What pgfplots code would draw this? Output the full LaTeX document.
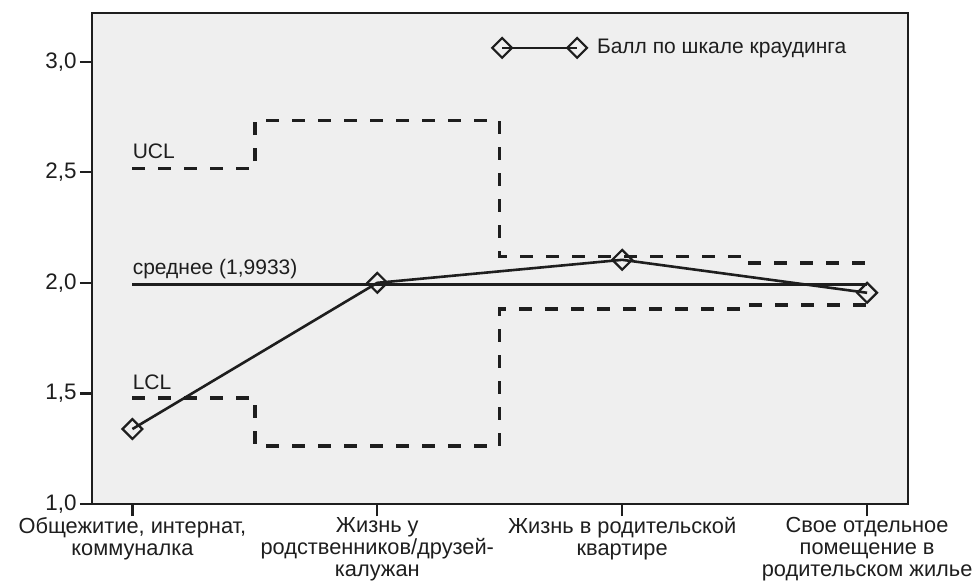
\documentclass[border=0pt]{standalone}
\usepackage{pgfplots}
\pgfplotsset{compat=1.18}
\usepackage{fontspec}
\setmainfont{Liberation Sans}
\definecolor{bg}{RGB}{239,239,239}
\definecolor{ln}{RGB}{30,30,30}
\begin{document}
\fontsize{10.5bp}{12bp}\selectfont
\begin{tikzpicture}
\begin{axis}[
  scale only axis,
  width=408bp, height=245.5bp,
  xmin=-0.165, xmax=3.167,
  ymin=1.0, ymax=3.22,
  axis background/.style={fill=bg},
  axis line style={line width=1.1bp, color=ln},
  xtick={0,1,2,3},
  xticklabels={{Общежитие, интернат,\\коммуналка},{Жизнь у\\родственников/друзей-\\калужан},{Жизнь в родительской\\квартире},{Свое отдельное\\помещение в\\родительском жилье}},
  xticklabel style={align=center, font=\fontsize{10.9bp}{11bp}\selectfont, text=ln, inner sep=0.5bp},
  ytick={1.0,1.5,2.0,2.5,3.0},
  yticklabel style={font=\fontsize{11.2bp}{12bp}\selectfont, text=ln, inner sep=1.5bp},
  /pgf/number format/.cd, fixed, fixed zerofill, precision=1, use comma, assume math mode=true,
  /pgfplots/.cd,
  tick align=outside,
  xtick pos=lower, ytick pos=left,
  major tick length=6bp,
  tick style={line width=1.1bp, color=ln},
  legend style={draw=none, fill=none, at={(rel axis cs:0.49,0.929)}, anchor=west, inner sep=0pt,
    font=\fontsize{10.5bp}{12bp}\selectfont, text=ln, column sep=3bp,
    nodes={inner sep=2bp}},
  legend image code/.code={\draw[#1,mark repeat=2,mark phase=1] plot coordinates {(0bp,0bp) (18.75bp,0bp) (37.5bp,0bp)};},
  clip=false,
]
% UCL
\addplot[const plot mark mid, ln, line width=1.7bp, dash pattern=on 6.5bp off 6.5bp, forget plot]
  coordinates {(0,2.516) (1,2.733) (2,2.118) (3,2.090)};
% LCL
\addplot[const plot mark mid, ln, line width=1.7bp, dash pattern=on 6.5bp off 6.5bp, forget plot]
  coordinates {(0,1.480) (1,1.262) (2,1.882) (3,1.900)};
% mean
\addplot[ln, line width=1.5bp, forget plot] coordinates {(0,1.9933) (3,1.9933)};
% data
\addplot[ln, line width=1.3bp, mark=square, mark size=3.5bp,
  mark options={rotate=45, fill=bg, line width=1.1bp, solid}]
  coordinates {(0,1.339) (1,2.000) (2,2.104) (3,1.955)};
\addlegendentry{Балл по шкале краудинга}
\node[anchor=base west, inner sep=0pt, text=ln] at (axis cs:0,2.516) [yshift=5bp] {UCL};
\node[anchor=base west, inner sep=0pt, text=ln] at (axis cs:0,1.9933) [yshift=5bp] {среднее (1,9933)};
\node[anchor=base west, inner sep=0pt, text=ln] at (axis cs:0,1.480) [yshift=4bp] {LCL};
\end{axis}
\pgfresetboundingbox
\path[use as bounding box] ([shift={(-46bp,-40.5bp)}]current axis.south west) rectangle ([shift={(33bp,6.5bp)}]current axis.north east);
\end{tikzpicture}
\end{document}
